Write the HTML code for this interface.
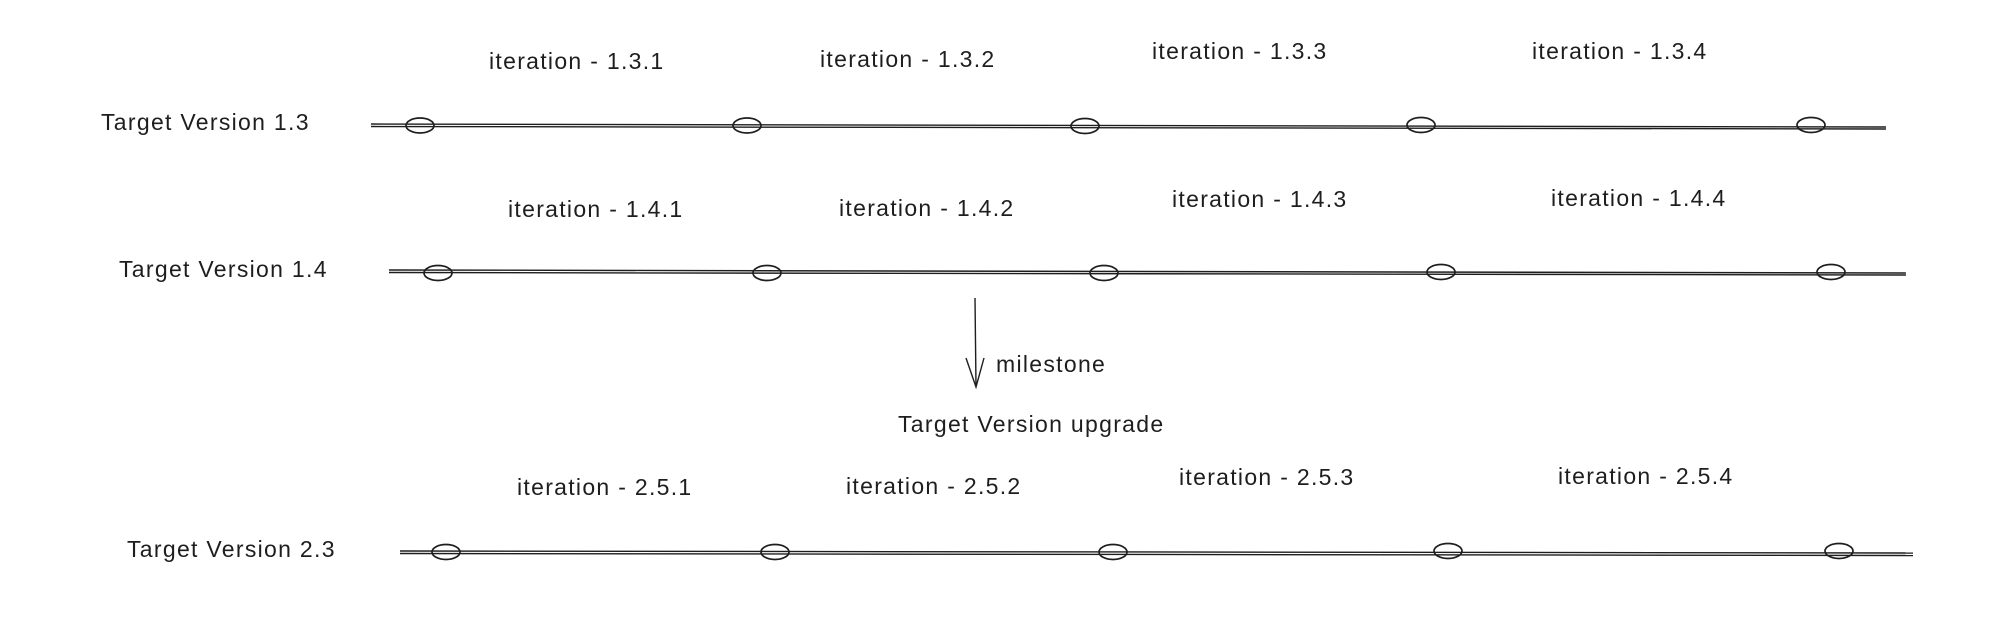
<!DOCTYPE html>
<html><head><meta charset="utf-8"><style>
html,body{margin:0;padding:0;background:#fff;}
svg{display:block;}
text{font-family:"Liberation Sans",sans-serif;font-size:23px;letter-spacing:1.3px;fill:#1e1e1e;dominant-baseline:middle;}
</style></head><body>
<svg width="2008" height="618" viewBox="0 0 2008 618" xmlns="http://www.w3.org/2000/svg">
<g stroke="#1e1e1e" fill="none" stroke-width="1.4">
<line x1="371" y1="124" x2="1886" y2="127"/><line x1="371" y1="126.5" x2="1886" y2="129"/>
<line x1="389" y1="270" x2="1906" y2="273"/><line x1="389" y1="272.5" x2="1906" y2="275"/>
<line x1="400" y1="551" x2="1913" y2="553"/><line x1="400" y1="553.5" x2="1913" y2="555.5"/>
<g stroke-width="1.7">
<ellipse cx="420" cy="125.5" rx="14" ry="7.5"/><ellipse cx="747" cy="125.5" rx="14" ry="7.5"/><ellipse cx="1085" cy="126" rx="14" ry="7.5"/><ellipse cx="1421" cy="125" rx="14" ry="7.5"/><ellipse cx="1811" cy="125" rx="14" ry="7.5"/>
<ellipse cx="438" cy="273" rx="14" ry="7.5"/><ellipse cx="767" cy="273" rx="14" ry="7.5"/><ellipse cx="1104" cy="273" rx="14" ry="7.5"/><ellipse cx="1441" cy="272" rx="14" ry="7.5"/><ellipse cx="1831" cy="272" rx="14" ry="7.5"/>
<ellipse cx="446" cy="552" rx="14" ry="7.5"/><ellipse cx="775" cy="552" rx="14" ry="7.5"/><ellipse cx="1113" cy="552" rx="14" ry="7.5"/><ellipse cx="1448" cy="551" rx="14" ry="7.5"/><ellipse cx="1839" cy="551" rx="14" ry="7.5"/>
</g>
<line x1="975" y1="298" x2="976" y2="386"/>
<polyline points="966,358 976,387 984,358"/>
</g>
<text x="101" y="124">Target Version 1.3</text>
<text x="119" y="271">Target Version 1.4</text>
<text x="127" y="551">Target Version 2.3</text>
<text x="489" y="63">iteration - 1.3.1</text>
<text x="820" y="61">iteration - 1.3.2</text>
<text x="1152" y="53">iteration - 1.3.3</text>
<text x="1532" y="53">iteration - 1.3.4</text>
<text x="508" y="211">iteration - 1.4.1</text>
<text x="839" y="210">iteration - 1.4.2</text>
<text x="1172" y="201">iteration - 1.4.3</text>
<text x="1551" y="200">iteration - 1.4.4</text>
<text x="517" y="489">iteration - 2.5.1</text>
<text x="846" y="488">iteration - 2.5.2</text>
<text x="1179" y="479">iteration - 2.5.3</text>
<text x="1558" y="478">iteration - 2.5.4</text>
<text x="996" y="366">milestone</text>
<text x="898" y="426">Target Version upgrade</text>
</svg>
</body></html>
